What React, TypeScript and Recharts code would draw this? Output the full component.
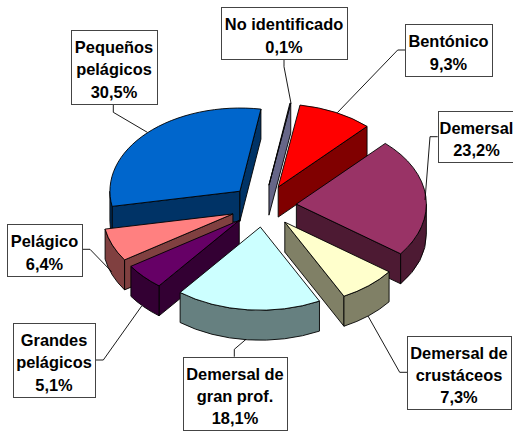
import React from "react";
import { PieChart, Pie } from "recharts";

// ---- data ----
const names = [
  "No identificado",
  "Bentónico",
  "Demersal",
  "Demersal de crustáceos",
  "Demersal de gran prof.",
  "Grandes pelágicos",
  "Pelágico",
  "Pequeños pelágicos",
];
const shares = [0.1, 9.3, 23.2, 7.3, 18.1, 5.1, 6.4, 30.5];
const labelLines = [
  ["No identificado", "0,1%"],
  ["Bentónico", "9,3%"],
  ["Demersal", "23,2%"],
  ["Demersal de", "crustáceos", "7,3%"],
  ["Demersal de", "gran prof.", "18,1%"],
  ["Grandes", "pelágicos", "5,1%"],
  ["Pelágico", "6,4%"],
  ["Pequeños", "pelágicos", "30,5%"],
];

// ---- styles ----
const topColors = ["#666699", "#FF0000", "#993366", "#FFFFCC", "#CCFFFF", "#660066", "#FF8080", "#0066CC"];
const sideColors = ["#666688", "#800000", "#4D1A33", "#808066", "#668080", "#330033", "#804040", "#003366"];

// ---- layout ----
const W = 513;
const H = 431;
const CX = 263.5;
const CY = 206;
const RADIUS = 130;
const TILT = 0.64;
const EXPLODE = 33;
const DEPTH = 30;
const START_ANGLE = 80.7;
const FONT_SIZE = 16.4;
const LINE_H = 22.4;
const TEXT_SHIFT = 2.5;
// back-to-front painting order (indices into names)
const paintOrder = [0, 1, 7, 2, 6, 3, 5, 4];
// x, y, w, h
const boxes = [
  [221, 7, 126, 52],
  [405, 24, 87, 52],
  [438, 111, 77, 51],
  [407, 336, 104, 73],
  [183, 357, 104, 73],
  [13, 323, 82, 74],
  [7, 224, 75, 52],
  [71, 30, 86, 74],
];
const leaders = [
  "284,59 284,66.7 291,103.3",
  "405,50 397.7,50 337.3,112.7",
  "437.7,136.7 430,136.7 425,200",
  "368,316 399.7,372.3 407.3,372.3",
  "234.3,356.7 234.3,349.3 246,339.3",
  "96,360 103.3,360 141.7,306",
  "81.7,249.3 90,249.3 111.7,271.7",
  "113.3,104 113.3,112.3 147.3,132.3",
];

const chartData = names.map((name, i) => ({ name, share: shares[i], fill: topColors[i], side: sideColors[i], idx: i }));

const rad = (d: number) => (d * Math.PI) / 180;

function makeSlice(layer: number) {
  return function Slice(props: any) {
    const { cx, cy, outerRadius, startAngle, endAngle, midAngle, payload } = props;
    const item = payload?.idx !== undefined ? payload : props;
    if (item.idx !== layer) return <g />;
    const mid = midAngle ?? (startAngle + endAngle) / 2;
    const ox = cx + EXPLODE * Math.cos(rad(mid));
    const oy = cy - EXPLODE * TILT * Math.sin(rad(mid));
    const rx = outerRadius;
    const ry = outerRadius * TILT;
    const pt = (a: number, dz = 0): [number, number] => [
      ox + rx * Math.cos(rad(a)),
      oy - ry * Math.sin(rad(a)) + dz,
    ];
    const f = (p: [number, number]) => `${p[0].toFixed(2)} ${p[1].toFixed(2)}`;
    const hi = Math.max(startAngle, endAngle);
    const lo = Math.min(startAngle, endAngle);
    const large = hi - lo > 180 ? 1 : 0;
    const s = pt(hi);
    const e = pt(lo);
    const apex: [number, number] = [ox, oy];
    const top = `M${f(apex)} L${f(s)} A${rx} ${ry} 0 ${large} 1 ${f(e)} Z`;

    const quad = (a: [number, number], b: [number, number]) =>
      `M${f(a)} L${f(b)} L${f([b[0], b[1] + DEPTH])} L${f([a[0], a[1] + DEPTH])} Z`;

    const walls: string[] = [];
    // a radial wall shows only when its top edge runs leftward on screen
    if (s[0] < apex[0]) walls.push(quad(apex, s));
    if (apex[0] < e[0]) walls.push(quad(e, apex));
    // rim: lower half of the ellipse only
    for (let k = -1; k <= 1; k++) {
      const a1 = Math.min(hi, k * 360);
      const a2 = Math.max(lo, k * 360 - 180);
      if (a1 > a2) {
        walls.push(
          `M${f(pt(a1))} A${rx} ${ry} 0 0 1 ${f(pt(a2))} L${f(pt(a2, DEPTH))} A${rx} ${ry} 0 0 0 ${f(pt(a1, DEPTH))} Z`
        );
      }
    }
    return (
      <g stroke="#000" strokeWidth={0.9} strokeLinejoin="round">
        {walls.map((d, i) => (
          <path key={i} d={d} fill={item.side} />
        ))}
        <path d={top} fill={item.fill} />
      </g>
    );
  };
}

function makeLabel() {
  return function Label(props: any) {
    const i = props.payload?.idx ?? props.idx ?? props.index;
    const [x, y, w, h] = boxes[i];
    const lines = labelLines[i];
    const mid = y + h / 2 + TEXT_SHIFT;
    return (
      <g>
        <polyline points={leaders[i]} fill="none" stroke="#000" strokeWidth={0.9} />
        <rect x={x + 0.5} y={y + 0.5} width={w} height={h} fill="#fff" stroke="#444" strokeWidth={1} />
        {lines.map((t, j) => (
          <text
            key={j}
            x={x + w / 2}
            y={mid + (j - (lines.length - 1) / 2) * LINE_H}
            dy="0.36em"
            textAnchor="middle"
            fontFamily="'Liberation Sans', Arial, sans-serif"
            fontWeight={700}
            fontSize={FONT_SIZE}
            fill="#000"
            stroke="none"
          >
            {t}
          </text>
        ))}
      </g>
    );
  };
}

const Nothing = () => <g />;

export default function App() {
  return (
    <div style={{ position: "absolute", left: 0, top: 0, width: W, height: H, background: "#fff", overflow: "hidden" }}>
      <PieChart width={W} height={H} margin={{ top: 0, right: 0, bottom: 0, left: 0 }}>
        {paintOrder.map((layer) => (
          <Pie
            key={layer}
            data={chartData}
            dataKey="share"
            nameKey="name"
            cx={CX}
            cy={CY}
            innerRadius={0}
            outerRadius={RADIUS}
            startAngle={START_ANGLE}
            endAngle={START_ANGLE - 360}
            paddingAngle={0}
            stroke="none"
            isAnimationActive={false}
            shape={makeSlice(layer)}
            legendType="none"
          />
        ))}
        <Pie
          data={chartData}
          dataKey="share"
          nameKey="name"
          cx={CX}
          cy={CY}
          outerRadius={RADIUS}
          startAngle={START_ANGLE}
          endAngle={START_ANGLE - 360}
          isAnimationActive={false}
          shape={Nothing}
          label={makeLabel()}
          labelLine={false}
          legendType="none"
        />
      </PieChart>
    </div>
  );
}
